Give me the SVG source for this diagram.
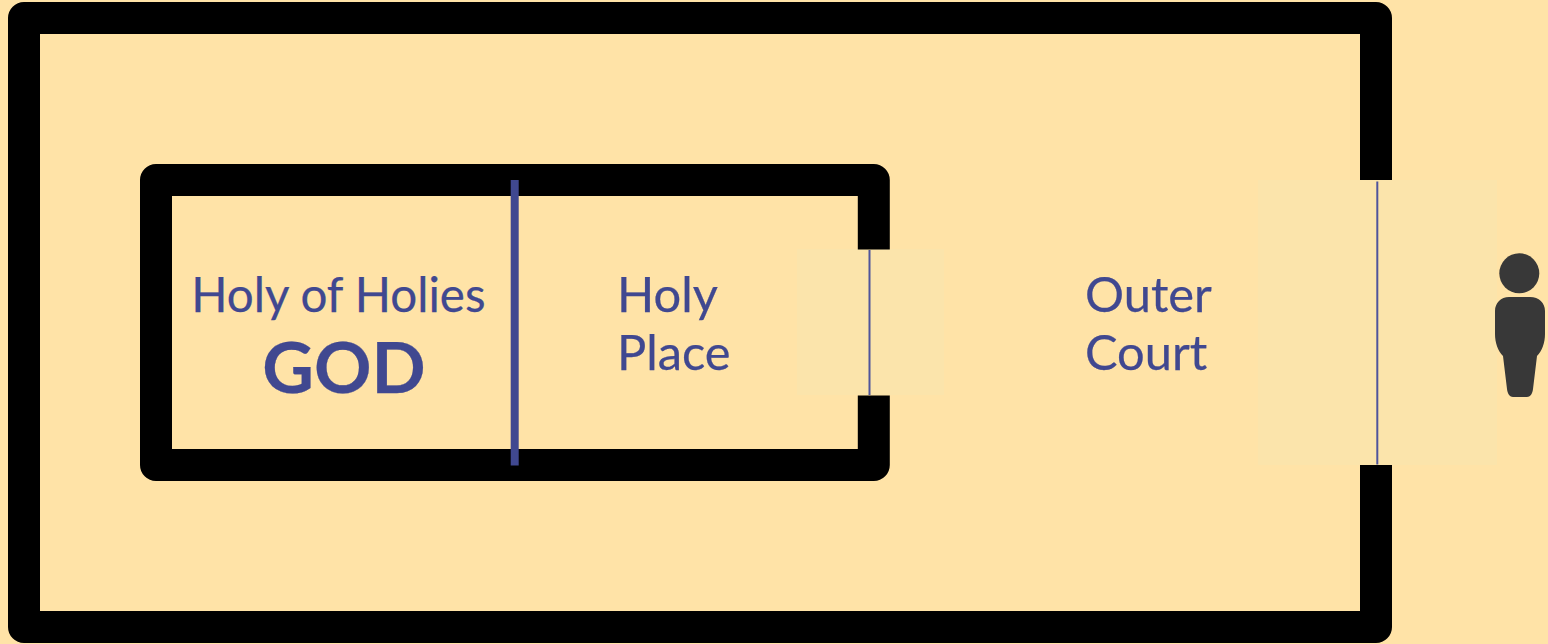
<svg xmlns="http://www.w3.org/2000/svg" width="1548" height="644" viewBox="0 0 1548 644">
<style>
.wall{fill:none;stroke:#000;stroke-width:32;stroke-linejoin:round}
.glow{fill:#fbe4ab}
.veil{fill:#404890}
.door{fill:#4f549c}
text{font-family:Lato,"Noto Sans",sans-serif;fill:#404890;stroke:#404890;stroke-width:.25px;font-size:48.800px}
.god{font-weight:700;font-size:71.200px}
.hoh{font-size:47.500px}
</style>
<rect width="1548" height="644" fill="#ffe3a7"/>
<g id="glows">
<rect class="glow" x="797" y="249" width="147" height="146"/>
<rect class="glow" x="1258" y="180" width="239" height="285"/>
</g>
<g id="outer-court">
<path class="wall" d="M1376 180V18H24V627H1376V465"/>
<rect class="door" x="1376.300" y="181.500" width="2" height="283"/>
<text x="1085" y="312">Outer</text>
<text x="1085" y="370">Court</text>
</g>
<g id="holy-place">
<path class="wall" d="M873.800 249.500V180H156V465H873.800V395.500"/>
<rect class="door" x="868.500" y="250" width="2" height="145"/>
<text x="617" y="312">Holy</text>
<text x="617" y="370">Place</text>
</g>
<g id="holy-of-holies">
<rect class="veil" x="510.700" y="180" width="8" height="285.500"/>
<text class="hoh" x="191.300" y="312">Holy of Holies</text>
<text class="god" x="262.300" y="392.700">GOD</text>
</g>
<g id="person" fill="#383838">
<circle cx="1519.300" cy="273.300" r="20"/>
<path d="M1509 297H1530C1539 297 1545 303 1545 311V334C1545 343 1542 351 1537 356L1533 389C1532.500 394 1530 397 1527 397H1513C1510 397 1507.500 394 1507 389L1503 356C1498 351 1495 343 1495 334V311C1495 303 1501 297 1509 297Z"/>
</g>
</svg>
